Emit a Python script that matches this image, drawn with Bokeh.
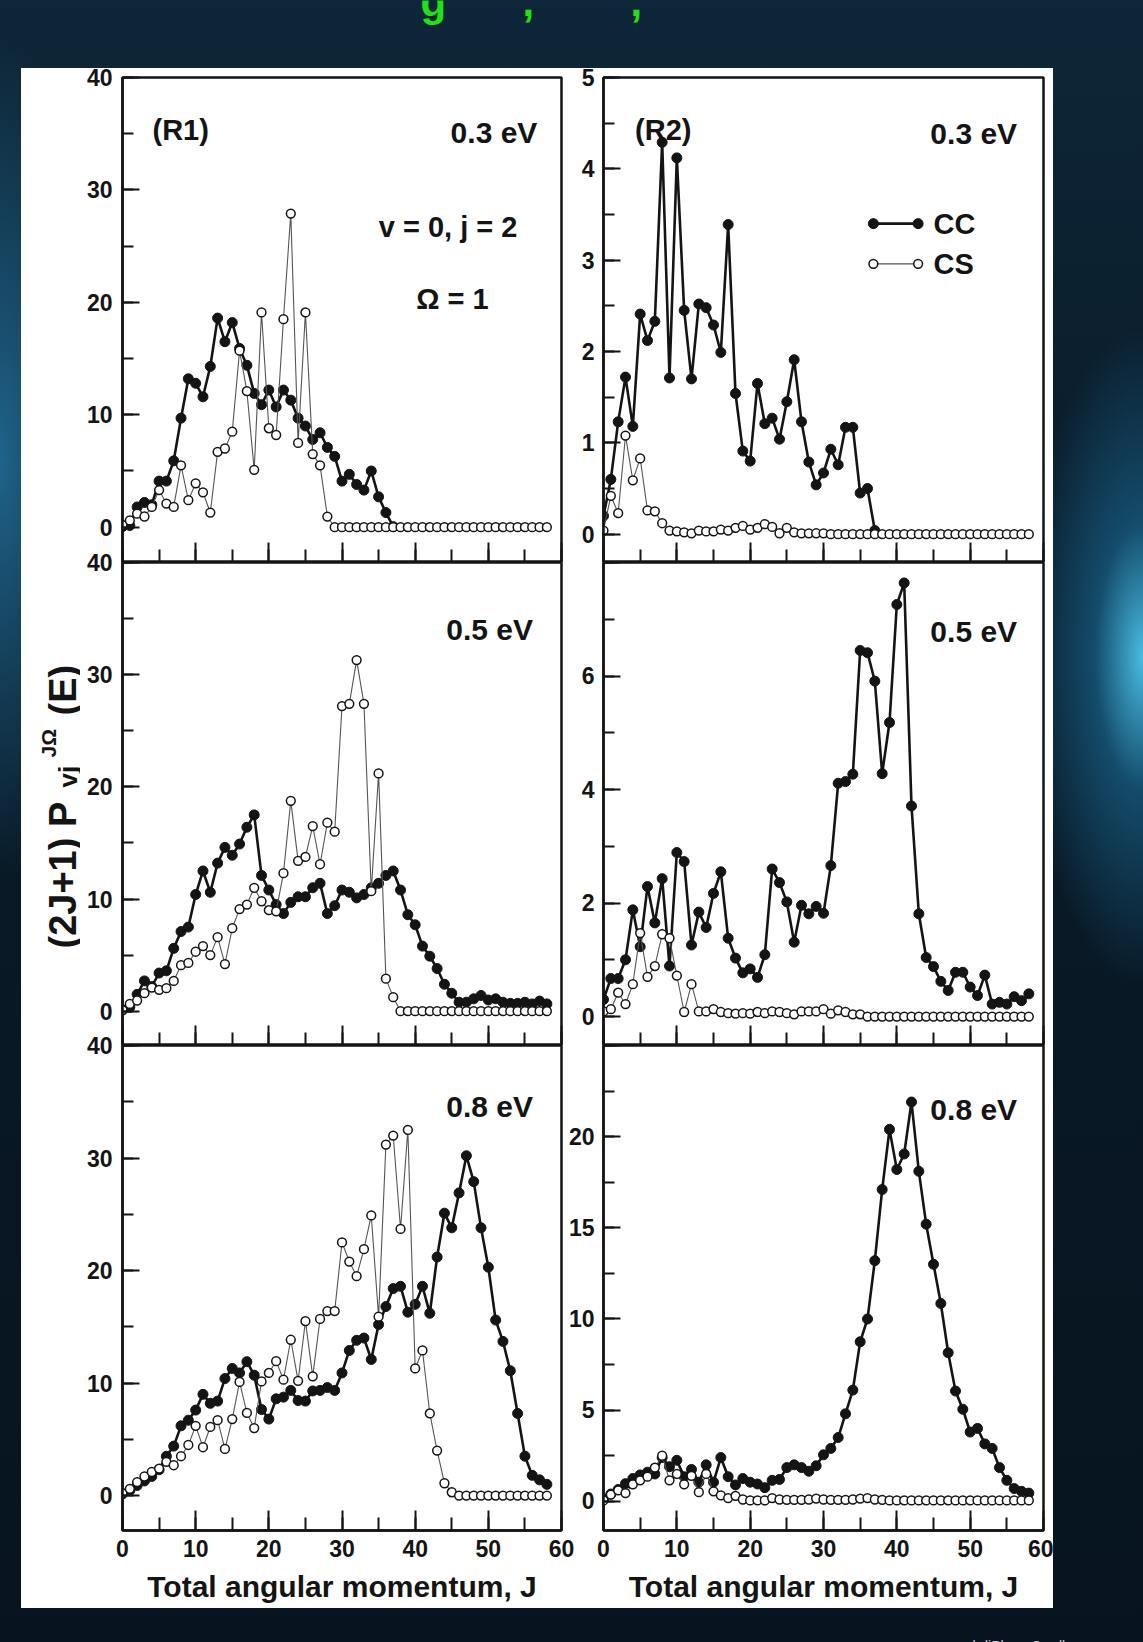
import numpy as np
from bokeh.plotting import figure
from bokeh.models import Label, SingleIntervalTicker, Range1d, Spacer
from bokeh.layouts import row, column
from bokeh.embed import file_html
from bokeh.resources import INLINE

# ---------------- data ----------------
J_ALL = list(range(59))
J_037 = list(range(38))

# (R1) panels, left column
L1_CC = [0.05, 0.15, 1.8, 2.2, 2.0, 4.1, 4.1, 5.9, 9.7, 13.2, 12.8, 11.6, 14.3, 18.6, 16.5, 18.2,
         15.9, 14.4, 11.9, 10.9, 12.2, 10.7, 12.2, 11.3, 9.7, 9.0, 7.8, 8.4, 7.1, 6.3, 4.1, 4.7,
         3.8, 3.3, 5.0, 2.7, 1.3, 0.05]
L1_CS = [0.2, 0.6, 1.2, 0.95, 1.8, 3.3, 2.1, 1.8, 5.5, 2.4, 3.9, 3.1, 1.3, 6.7, 7.0, 8.5,
         15.7, 12.1, 5.1, 19.1, 8.8, 8.2, 18.5, 27.9, 7.5, 19.1, 6.5, 5.5, 0.95, 0.0,
         0, 0, 0, 0, 0, 0, 0, 0, 0, 0, 0, 0, 0, 0, 0, 0, 0, 0, 0, 0, 0, 0, 0, 0, 0, 0, 0, 0, 0]

L2_CC = [0.1, 0.35, 1.5, 2.7, 2.2, 3.4, 3.6, 5.6, 7.1, 7.5,
         10.4, 12.5, 10.6, 13.2, 14.6, 13.9, 14.9, 16.4, 17.5, 12.1,
         10.8, 9.5, 8.7, 9.7, 10.2, 10.2, 11.0, 11.4, 8.7, 9.4,
         10.8, 10.6, 10.1, 10.4, 11.0, 11.4, 12.1, 12.5, 10.8, 8.6,
         7.7, 5.8, 4.9, 3.8, 2.4, 1.6, 0.8, 0.8, 1.1, 1.4,
         1.0, 1.1, 0.8, 0.7, 0.7, 0.8, 0.65, 0.9, 0.65]
L2_CS = [0.1, 0.65, 0.95, 1.6, 2.1, 1.9, 2.05, 2.7, 4.1, 4.3,
         5.3, 5.8, 5.0, 6.6, 4.2, 7.4, 9.1, 9.5, 11.0, 9.8,
         9.0, 8.9, 12.3, 18.75, 13.4, 13.75, 16.5, 13.1, 16.8, 16.0,
         27.2, 27.4, 31.3, 27.4, 10.7, 21.2, 2.9, 1.25,
         0, 0, 0, 0, 0, 0, 0, 0, 0, 0, 0, 0, 0, 0, 0, 0, 0, 0, 0, 0, 0]

L3_CC = [0.15, 0.45, 0.9, 1.3, 1.7, 2.3, 3.5, 4.4, 6.2, 6.7,
         7.6, 9.0, 8.2, 8.4, 10.4, 11.3, 10.9, 11.9, 10.7, 7.65,
         6.8, 8.6, 8.75, 9.35, 8.45, 8.4, 9.3, 9.35, 9.6, 9.35,
         10.9, 12.9, 13.8, 14.0, 12.1, 15.2, 16.8, 18.4, 18.6, 16.3,
         17.0, 18.6, 16.2, 21.2, 25.1, 23.8, 26.9, 30.2, 27.9, 23.8,
         20.3, 15.6, 13.7, 11.1, 7.3, 3.5, 1.8, 1.4, 1.0]
L3_CS = [0.2, 0.6, 1.2, 1.7, 2.1, 2.4, 3.0, 2.7, 3.5, 4.5,
         6.2, 4.3, 6.1, 6.7, 4.15, 6.8, 10.1, 7.35, 6.0, 10.15,
         10.9, 11.95, 10.3, 13.85, 10.2, 15.5, 10.6, 15.7, 16.4, 16.4,
         22.5, 20.8, 19.5, 21.9, 24.9, 15.9, 31.2, 32.0, 23.7, 32.5,
         11.3, 12.9, 7.3, 4.0, 1.1, 0.3,
         0, 0, 0, 0, 0, 0, 0, 0, 0, 0, 0, 0, 0]

# (R2) panels, right column
R1_CC = [0.2, 0.6, 1.23, 1.72, 1.18, 2.41, 2.12, 2.33, 4.29, 1.71, 4.12, 2.45, 1.70, 2.52, 2.48,
         2.29, 1.99, 3.39, 1.54, 0.91, 0.80, 1.65, 1.21, 1.27, 1.04, 1.45, 1.91, 1.23, 0.79,
         0.54, 0.67, 0.93, 0.76, 1.17, 1.17, 0.45, 0.50, 0.04]
R1_CS = [0.04, 0.42, 0.23, 1.08, 0.59, 0.83, 0.26, 0.25, 0.12, 0.04,
         0.03, 0.02, 0.01, 0.04, 0.03, 0.03, 0.05, 0.04, 0.07, 0.09,
         0.05, 0.07, 0.11, 0.08, 0.01, 0.07, 0.02, 0.01, 0.01, 0.01,
         0.01, 0, 0, 0, 0, 0, 0, 0, 0, 0, 0, 0, 0, 0, 0, 0, 0, 0, 0, 0, 0, 0, 0, 0, 0, 0, 0, 0, 0]

R2_CC = [0.3, 0.67, 0.67, 1.0, 1.88, 1.23, 2.29, 1.65, 2.43, 0.89,
         2.89, 2.73, 1.26, 1.84, 1.57, 2.17, 2.55, 1.38, 1.03, 0.77,
         0.84, 0.69, 1.09, 2.6, 2.36, 2.02, 1.31, 1.96, 1.81, 1.94,
         1.82, 2.66, 4.11, 4.14, 4.27, 6.45, 6.41, 5.91, 4.28, 5.18,
         7.26, 7.64, 3.71, 1.81, 1.04, 0.88, 0.62, 0.46, 0.78, 0.78,
         0.52, 0.37, 0.73, 0.22, 0.25, 0.22, 0.35, 0.28, 0.40]
R2_CS = [0.09, 0.13, 0.42, 0.22, 0.57, 1.47, 0.70, 0.89, 1.45, 1.38,
         0.72, 0.08, 0.57, 0.09, 0.09, 0.13, 0.08, 0.06, 0.05, 0.06,
         0.05, 0.08, 0.06, 0.09, 0.08, 0.06, 0.04, 0.09, 0.09, 0.09,
         0.13, 0.05, 0.11, 0.08, 0.04, 0.04,
         0, 0, 0, 0, 0, 0, 0, 0, 0, 0, 0, 0, 0, 0, 0, 0, 0, 0, 0, 0, 0, 0, 0]

R3_CC = [0.1, 0.4, 0.65, 0.97, 1.25, 1.45, 1.6, 1.5, 2.4, 1.9,
         2.25, 1.35, 1.75, 1.05, 2.0, 1.05, 2.4, 1.35, 0.9, 1.25,
         1.05, 0.95, 0.75, 1.15, 1.2, 1.85, 2.0, 1.85, 1.65, 1.95,
         2.55, 2.9, 3.5, 4.8, 6.1, 8.75, 10.0, 13.2, 17.1, 20.4,
         18.2, 19.05, 21.9, 18.1, 15.2, 13.0, 10.85, 8.15, 6.05, 5.05,
         3.8, 4.0, 3.15, 2.9, 1.85, 1.15, 0.7, 0.55, 0.45]
R3_CS = [0.05, 0.37, 0.6, 0.45, 0.93, 1.15, 1.35, 1.85, 2.5, 1.15,
         1.5, 0.93, 1.4, 0.5, 1.5, 0.55, 0.33, 0.18, 0.3, 0.1,
         0.05, 0.05, 0.05, 0.18, 0.1, 0.08, 0.08, 0.08, 0.1, 0.15,
         0.1, 0.08, 0.08, 0.08, 0.1, 0.15, 0.18, 0.1, 0.08, 0.05,
         0.05, 0.05, 0.05, 0.05, 0.05, 0.05, 0.05, 0.05, 0.05, 0.05,
         0.05, 0.05, 0.05, 0.05, 0.05, 0.05, 0.05, 0.05, 0.05]

X_RANGE = (0, 60)
X_TITLE = "Total angular momentum, J"
ENERGY_LABELS = ["0.3 eV", "0.5 eV", "0.8 eV"]

FONT = "Liberation Sans"
TICKFONT = "Liberation Sans"
INK = "#141414"


def make_panel(width, height, yr, yint, borders, bottom_labels, ystand, overrides=None, margin=None):
    bl, br, bt, bb = borders
    kw = {}
    if margin is not None:
        kw["margin"] = margin
    p = figure(width=width, height=height, x_range=Range1d(*X_RANGE), y_range=Range1d(*yr),
               output_backend="svg", toolbar_location=None,
               min_border_left=bl, min_border_right=br, min_border_top=bt, min_border_bottom=bb, **kw)
    p.border_fill_color = None
    p.background_fill_color = "white"
    p.outline_line_color = INK
    p.outline_line_width = 2.5
    p.grid.visible = False

    xa = p.xaxis[0]
    xa.ticker = SingleIntervalTicker(interval=10, num_minor_ticks=2)
    xa.major_tick_in, xa.major_tick_out = 20, 0
    xa.minor_tick_in, xa.minor_tick_out = 13, 0
    xa.major_tick_line_width = 2
    xa.minor_tick_line_width = 2
    xa.major_tick_line_color = INK
    xa.minor_tick_line_color = INK
    xa.axis_line_width = 2.5
    xa.axis_line_color = INK
    if bottom_labels:
        xa.major_label_text_font = TICKFONT
        xa.major_label_text_font_size = "23px"
        xa.major_label_text_font_style = "bold"
        xa.major_label_text_color = INK
        xa.major_label_standoff = 9
        xa.axis_label = X_TITLE
        xa.axis_label_text_font = FONT
        xa.axis_label_text_font_size = "30px"
        xa.axis_label_text_font_style = "bold"
        xa.axis_label_text_color = INK
        xa.axis_label_standoff = 10
    else:
        xa.major_label_text_color = None
        xa.major_label_text_font_size = "1px"
        xa.major_label_standoff = 0

    ya = p.yaxis[0]
    ya.ticker = SingleIntervalTicker(interval=yint, num_minor_ticks=2)
    ya.major_tick_in, ya.major_tick_out = 17, 0
    ya.minor_tick_in, ya.minor_tick_out = 11, 0
    ya.major_tick_line_width = 2
    ya.minor_tick_line_width = 2
    ya.major_tick_line_color = INK
    ya.minor_tick_line_color = INK
    ya.axis_line_width = 2.5
    ya.axis_line_color = INK
    ya.major_label_text_font = TICKFONT
    ya.major_label_text_font_size = "23px"
    ya.major_label_text_font_style = "bold"
    ya.major_label_text_color = INK
    ya.major_label_standoff = ystand
    if overrides:
        ya.major_label_overrides = overrides
    return p


def add_series(p, j_cc, cc, j_cs, cs):
    p.line(j_cc, cc, line_color=INK, line_width=2.6)
    p.scatter(j_cc, cc, size=10, marker="circle", fill_color=INK, line_color=INK, line_width=1)
    p.line(j_cs, cs, line_color="#555555", line_width=1.1)
    p.scatter(j_cs, cs, size=8.8, marker="circle", fill_color="white", line_color=INK, line_width=1.5)


def add_text(p, x, y, text, size="30px", align="right", baseline="alphabetic"):
    p.add_layout(Label(x=x, y=y, text=text, text_font=FONT, text_font_size=size,
                       text_font_style="bold", text_color=INK, text_align=align,
                       text_baseline=baseline))


LW, RW = 495, 490
H1, H2, H3 = 494, 493, 573

L1 = make_panel(LW, H1, (-3.14, 40), 10, (42, 14, 9, 0), False, 10)
L2 = make_panel(LW, H2, (-3.06, 40), 10, (42, 14, 10, 0), False, 10, margin=(-10, 0, 0, 0))
L3 = make_panel(LW, H3, (-3.1, 40), 10, (42, 14, 10, 78), True, 10, margin=(-10, 0, 0, 0))
R1 = make_panel(RW, H1, (-0.31, 5), 1, (40, 10, 9, 0), False, 9)
R2 = make_panel(RW, H2, (-0.51, 8), 2, (40, 10, 10, 0), False, 9, {8: " "}, margin=(-10, 0, 0, 0))
R3 = make_panel(RW, H3, (-1.6, 25), 5, (40, 10, 10, 78), True, 9, {25: " "}, margin=(-10, 0, 0, 0))

add_series(L1, J_037, L1_CC, J_ALL, L1_CS)
add_series(L2, J_ALL, L2_CC, J_ALL, L2_CS)
add_series(L3, J_ALL, L3_CC, J_ALL, L3_CS)
add_series(R1, J_037, R1_CC, J_ALL, R1_CS)
add_series(R2, J_ALL, R2_CC, J_ALL, R2_CS)
add_series(R3, J_ALL, R3_CC, J_ALL, R3_CS)

add_text(L1, 4.1, 35.3, "(R1)", "29px", "left")
add_text(L1, 56.7, 35.1, ENERGY_LABELS[0])
add_text(L1, 44.5, 26.7, "v = 0, j = 2", "29px", "center")
add_text(L1, 45.1, 20.3, "\u03a9 = 1", "29px", "center")
add_text(L2, 56.1, 34.0, ENERGY_LABELS[1])
add_text(L3, 56.1, 34.6, ENERGY_LABELS[2])
add_text(R1, 4.3, 4.43, "(R2)", "29px", "left")
add_text(R1, 56.4, 4.39, ENERGY_LABELS[0])
add_text(R2, 56.4, 6.78, ENERGY_LABELS[1])
add_text(R3, 56.4, 21.5, ENERGY_LABELS[2])

# legend key (R2, 0.3 eV)
LEG_X = [36.8, 42.9]
LEG_CC_Y = [3.40, 3.40]
LEG_CS_Y = [2.96, 2.96]
R1.line(LEG_X, LEG_CC_Y, line_color=INK, line_width=2.6)
R1.scatter(LEG_X, LEG_CC_Y, size=10, marker="circle", fill_color=INK, line_color=INK)
R1.line(LEG_X, LEG_CS_Y, line_color="#555555", line_width=1.1)
R1.scatter(LEG_X, LEG_CS_Y, size=8.8, marker="circle", fill_color="white", line_color=INK, line_width=1.5)
add_text(R1, 45.0, 3.40, "CC", "29px", "left", "middle")
add_text(R1, 45.0, 2.96, "CS", "29px", "left", "middle")


def blank(width, height, xr, yr):
    p = figure(width=width, height=height, x_range=Range1d(*xr), y_range=Range1d(*yr),
               output_backend="svg", toolbar_location=None,
               min_border_left=0, min_border_right=0, min_border_top=0, min_border_bottom=0)
    p.border_fill_color = None
    p.background_fill_color = None
    p.outline_line_color = None
    p.axis.visible = False
    p.grid.visible = False
    return p


# y-axis title, built from pieces (sub/superscripts)
YL = blank(59, 1540, (0, 59), (0, 1540))
for x, y, t, s in [(41, 660, "(2J+1) P", "38px"), (46, 821, "vj", "26px"),
                   (27, 851, "J\u03a9", "21px"), (41, 893, "(E)", "38px")]:
    YL.add_layout(Label(x=x, y=y, text=t, angle=np.pi / 2, text_font=FONT, text_font_size=s,
                        text_font_style="bold", text_color=INK, text_align="left",
                        text_baseline="alphabetic"))

# top strip with the cut-off green title (only its lowest parts show)
TOP = blank(1143, 68, (0, 1143), (0, 68))
for x, t in [(420, "g"), (522, ","), (630, ",")]:
    TOP.add_layout(Label(x=x, y=67, text=t, text_font=FONT, text_font_size="42px",
                         text_font_style="bold", text_color="#22e01a", text_align="left",
                         text_baseline="alphabetic"))

BOT = blank(1143, 34, (0, 1143), (0, 34))
BOT.add_layout(Label(x=972, y=-3, text="hdiPhoneSwallpapers.com", text_font=FONT,
                     text_font_size="14px", text_color="#c9c9c9", text_align="left",
                     text_baseline="alphabetic"))

leftcol = column(L1, L2, L3)
rightcol = column(R1, R2, R3, margin=(0, 0, 0, -12))
inner = row(YL, leftcol, rightcol, styles={"background-color": "white"})

BG = ("radial-gradient(ellipse 120px 330px at 100% 40%, rgba(80,205,245,0.9) 0%, "
      "rgba(30,125,175,0.5) 40%, rgba(10,40,70,0) 100%), "
      "radial-gradient(ellipse 110px 420px at 0% 28%, rgba(40,130,180,0.7) 0%, "
      "rgba(10,40,70,0) 100%), "
      "linear-gradient(180deg, #0e2738 0%, #0a1c2a 30%, #07141f 100%)")

page = column(TOP, row(Spacer(width=21, height=1540), inner, Spacer(width=90, height=1540)), BOT,
              styles={"background": BG})

open("out.html", "w").write(file_html(page, INLINE))
